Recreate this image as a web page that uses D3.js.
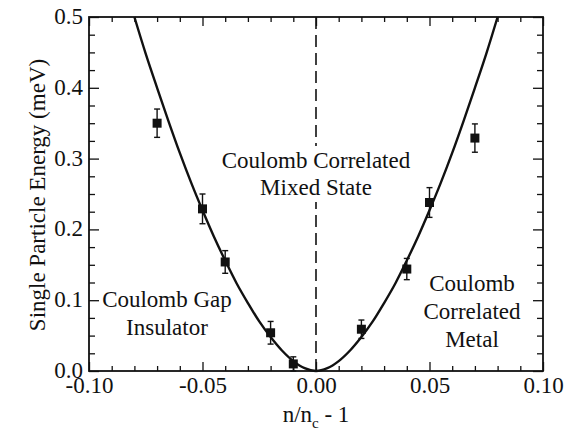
<!DOCTYPE html>
<html><head><meta charset="utf-8">
<script src="https://cdn.jsdelivr.net/npm/d3@7"></script>
<style>
body{margin:0;background:#fff}
svg{display:block}
text{font-family:"Liberation Serif","Tinos","DejaVu Serif","Noto Serif",serif;fill:#111}
</style>
</head><body>
<svg id="c" width="577" height="435"></svg>
<script>
const xMajorTicks = [-0.10, -0.05, 0.00, 0.05, 0.10];
const xTickLabels = ["-0.10", "-0.05", "0.00", "0.05", "0.10"];
const xMinorTicks = [-0.09, -0.08, -0.07, -0.06, -0.04, -0.03, -0.02, -0.01, 0.01, 0.02, 0.03, 0.04, 0.06, 0.07, 0.08, 0.09];
const yMajorTicks = [0.0, 0.1, 0.2, 0.3, 0.4, 0.5];
const yTickLabels = ["0.0", "0.1", "0.2", "0.3", "0.4", "0.5"];
const yMinorTicks = [0.025, 0.05, 0.075, 0.125, 0.15, 0.175, 0.225, 0.25, 0.275, 0.325, 0.35, 0.375, 0.425, 0.45, 0.475];

const pointX = [-0.07, -0.05, -0.04, -0.02, -0.01, 0.02, 0.04, 0.05, 0.07];
const pointY = [0.350, 0.229, 0.154, 0.054, 0.010, 0.059, 0.144, 0.238, 0.329];
const pointErr = [0.020, 0.021, 0.016, 0.016, 0.010, 0.013, 0.015, 0.021, 0.020];

const curveX = [-0.080, -0.075, -0.070, -0.065, -0.060, -0.055, -0.050, -0.045, -0.040, -0.035, -0.030, -0.025, -0.020, -0.015, -0.010, -0.005, 0.000,
                0.005, 0.010, 0.015, 0.020, 0.025, 0.030, 0.035, 0.040, 0.045, 0.050, 0.055, 0.060, 0.065, 0.070, 0.075, 0.080];
const curveY = [0.500, 0.448, 0.400, 0.353, 0.308, 0.266, 0.227, 0.190, 0.156, 0.124, 0.096, 0.070, 0.048, 0.029, 0.014, 0.004, 0.000,
                0.004, 0.014, 0.029, 0.048, 0.070, 0.096, 0.124, 0.156, 0.190, 0.227, 0.266, 0.308, 0.353, 0.400, 0.448, 0.500];

const FONT = '"Liberation Serif","Tinos","DejaVu Serif","Noto Serif",serif';
const svg = d3.select("#c");
const L = 89, R = 543, T = 17, B = 371;
const x = d3.scaleLinear().domain([-0.10, 0.10]).range([L, R]);
const y = d3.scaleLinear().domain([0, 0.5]).range([B, T]);
const ink = "#111";
const FS = 23;

// dashed line at x = 0
svg.append("line")
  .attr("x1", x(0)).attr("x2", x(0)).attr("y1", T).attr("y2", B)
  .attr("stroke", ink).attr("stroke-width", 1.6).attr("stroke-dasharray", "12,6");

// curve
const line = d3.line().x((d, i) => x(curveX[i])).y(d => y(d)).curve(d3.curveCatmullRom.alpha(0.5));
svg.append("path").datum(curveY).attr("d", line)
  .attr("fill", "none").attr("stroke", ink).attr("stroke-width", 2.4);

// error bars and points
const pts = pointX.map((v, i) => ({x: v, y: pointY[i], e: pointErr[i]}));
const g = svg.append("g");
g.selectAll(".eb").data(pts).join("line")
  .attr("x1", d => x(d.x)).attr("x2", d => x(d.x))
  .attr("y1", d => y(d.y - d.e)).attr("y2", d => y(d.y + d.e))
  .attr("stroke", ink).attr("stroke-width", 1.4);
["top", "bot"].forEach(k => {
  g.selectAll(".cap" + k).data(pts).join("line")
    .attr("x1", d => x(d.x) - 3).attr("x2", d => x(d.x) + 3)
    .attr("y1", d => y(k === "top" ? d.y + d.e : d.y - d.e))
    .attr("y2", d => y(k === "top" ? d.y + d.e : d.y - d.e))
    .attr("stroke", ink).attr("stroke-width", 1.4);
});
g.selectAll(".pt").data(pts).join("rect")
  .attr("x", d => x(d.x) - 4.5).attr("y", d => y(d.y) - 4.5)
  .attr("width", 9).attr("height", 9).attr("fill", ink);

// annotations with white backing (hides dashed line)
function label(lines, cx, y0, dy, back) {
  const t = svg.append("text").attr("text-anchor", "middle").attr("font-size", FS).attr("font-family", FONT);
  lines.forEach((s, i) => t.append("tspan").attr("x", cx).attr("y", y0 + i * dy).text(s));
  if (back) {
    const bb = t.node().getBBox();
    svg.insert("rect", "text").attr("x", bb.x - 2).attr("y", bb.y - 2)
      .attr("width", bb.width + 4).attr("height", bb.height + 4).attr("fill", "#fff");
  }
}
label(["Coulomb Correlated", "Mixed State"], x(0), 168, 27, true);
label(["Coulomb Gap", "Insulator"], 167, 307, 28, false);
label(["Coulomb", "Correlated", "Metal"], 472, 291, 28, false);

// axes (ticks inward)
function styleAxis(sel) {
  sel.attr("font-family", FONT);
  sel.select(".domain").remove();
  sel.selectAll("line").attr("stroke", ink).attr("stroke-width", 1.3);
  sel.selectAll("text").attr("font-size", FS).attr("font-family", FONT).attr("fill", ink);
}
const xa = svg.append("g").attr("transform", `translate(0,${B})`)
  .call(d3.axisBottom(x).tickValues(xMajorTicks).tickSize(-9).tickPadding(6)
    .tickFormat((d, i) => xTickLabels[i]));
styleAxis(xa);
const xam = svg.append("g").attr("transform", `translate(0,${B})`)
  .call(d3.axisBottom(x).tickValues(xMinorTicks).tickSize(-5).tickFormat(""));
styleAxis(xam);
const xt = svg.append("g").attr("transform", `translate(0,${T})`)
  .call(d3.axisTop(x).tickValues(xMajorTicks).tickSize(-9).tickFormat(""));
styleAxis(xt);
const xtm = svg.append("g").attr("transform", `translate(0,${T})`)
  .call(d3.axisTop(x).tickValues(xMinorTicks).tickSize(-5).tickFormat(""));
styleAxis(xtm);

const ya = svg.append("g").attr("transform", `translate(${L},0)`)
  .call(d3.axisLeft(y).tickValues(yMajorTicks).tickSize(-10).tickPadding(6)
    .tickFormat((d, i) => yTickLabels[i]));
styleAxis(ya);
ya.selectAll("text").attr("dy", "0.28em");
const yam = svg.append("g").attr("transform", `translate(${L},0)`)
  .call(d3.axisLeft(y).tickValues(yMinorTicks).tickSize(-6).tickFormat(""));
styleAxis(yam);
const yr = svg.append("g").attr("transform", `translate(${R},0)`)
  .call(d3.axisRight(y).tickValues(yMajorTicks).tickSize(-10).tickFormat(""));
styleAxis(yr);
const yrm = svg.append("g").attr("transform", `translate(${R},0)`)
  .call(d3.axisRight(y).tickValues(yMinorTicks).tickSize(-6).tickFormat(""));
styleAxis(yrm);

// frame
svg.append("rect").attr("x", L).attr("y", T).attr("width", R - L).attr("height", B - T)
  .attr("fill", "none").attr("stroke", ink).attr("stroke-width", 1.8);

// axis titles
const xtitle = svg.append("text").attr("text-anchor", "middle").attr("font-size", FS).attr("font-family", FONT)
  .attr("x", x(0)).attr("y", 422);
xtitle.append("tspan").text("n/n");
xtitle.append("tspan").attr("font-size", 15).attr("dy", 6).text("c");
xtitle.append("tspan").attr("dy", -6).text(" - 1");

svg.append("text").attr("text-anchor", "middle").attr("font-size", FS).attr("font-family", FONT)
  .attr("transform", `translate(45,195) rotate(-90)`)
  .text("Single Particle Energy (meV)");
</script>
</body></html>
